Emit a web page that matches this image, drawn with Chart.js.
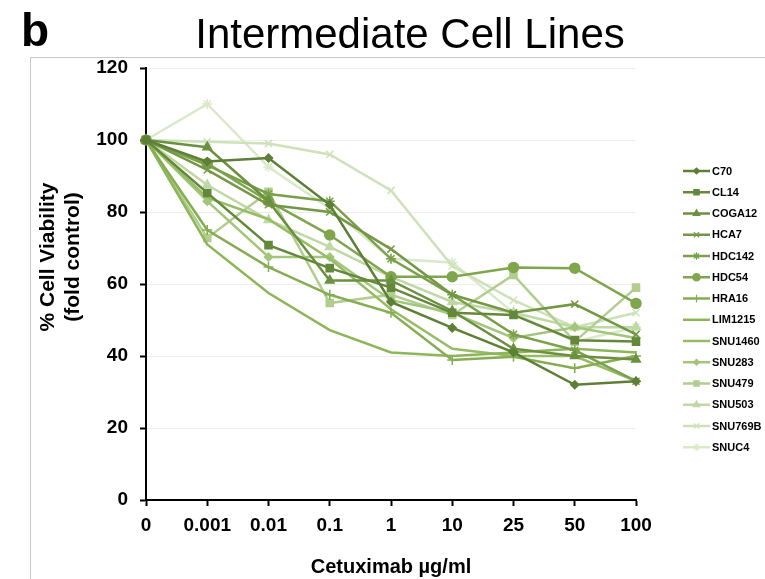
<!DOCTYPE html>
<html><head><meta charset="utf-8">
<script src="https://cdn.jsdelivr.net/npm/chart.js@4"></script>
<style>html,body{margin:0;padding:0;background:#fff;}#wrap{position:relative;width:765px;height:579px;}</style>
</head><body><div id="wrap"><canvas id="c" width="765" height="579"></canvas></div>
<script>
const categories = ["0","0.001","0.01","0.1","1","10","25","50","100"];
const seriesNames = ["C70","CL14","COGA12","HCA7","HDC142","HDC54","HRA16","LIM1215","SNU1460","SNU283","SNU479","SNU503","SNU769B","SNUC4"];
const C70     = [100, 94,   95,   82,   55,   47.8, 41,   32,   33];
const CL14    = [100, 85.3, 70.8, 64.4, 59,   52,   51.4, 44.4, 44];
const COGA12  = [100, 98,   83,   61,   61,   52.5, 42,   40,   39];
const HCA7    = [100, 91.7, 82,   80,   69.7, 57,   52,   54.4, 46];
const HDC142  = [100, 93,   85,   83,   67,   57,   46,   41.6, 33];
const HDC54   = [100, 93.5, 83,   73.6, 62,   62,   64.6, 64.4, 54.6];
const HRA16   = [100, 75,   64.7, 57,   52,   38.9, 39.8, 36.6, 40];
const LIM1215 = [100, 71,   57.5, 47.2, 41,   40,   41,   42,   41];
const SNU1460 = [100, 84,   78,   67,   53,   42,   40,   40,   33];
const SNU283  = [100, 83,   67.5, 67.5, 55.5, 52,   45,   48,   45];
const SNU479  = [100, 72.8, 85.6, 54.7, 57,   51.4, 62.5, 44,   59];
const SNU503  = [100, 87.5, 77.8, 70.3, 62,   55,   52,   48,   48];
const SNU769B = [100, 99.5, 99,   96,   86,   65,   55.5, 48,   52];
const SNUC4   = [100, 110,  92.5, 81,   67,   66,   52,   44,   48];
const yTicks = [0,20,40,60,80,100,120];
const yTitle = ['% Cell Viability','(fold control)'];
const xTitle = 'Cetuximab µg/ml';
const chartTitle = 'Intermediate Cell Lines';
const panelLetter = 'b';

const seriesValues = [C70,CL14,COGA12,HCA7,HDC142,HDC54,HRA16,LIM1215,SNU1460,SNU283,SNU479,SNU503,SNU769B,SNUC4];
const colors = ["#5d7f36","#64883a","#6b9140","#739845","#7aa04a","#7fa64c","#86ad52","#8cb659","#96bd65","#a2c67a","#b1ce8f","#bfd8a4","#cde2b8","#d9e9ca"];
const styles = ["rectRot","rect","triangle","crossRot","star","circle","cross",false,false,"rectRot","rect","triangle","crossRot","star"];
const radii  = [4,5,5,5,5,5,5,0,0,4,5,5,5,5];

const datasets = seriesNames.map((n,i)=>({
  label:n, data:seriesValues[i], borderColor:colors[i], backgroundColor:colors[i],
  borderWidth:2.5, pointStyle:styles[i]||'circle', pointRadius:radii[i], pointBorderWidth:1.5,
  pointHoverRadius:radii[i], tension:0, fill:false
}));

const FONT = "'Liberation Sans', Arial, sans-serif";

const deco = {
  id:'deco',
  beforeDraw(chart){
    const ctx = chart.ctx;
    ctx.save();
    ctx.fillStyle='#fff'; ctx.fillRect(0,0,chart.width,chart.height);
    ctx.strokeStyle='#c8c8c8'; ctx.lineWidth=1;
    ctx.beginPath(); ctx.moveTo(30.5,579); ctx.lineTo(30.5,57.5); ctx.lineTo(765,57.5); ctx.stroke();
    ctx.fillStyle='#000';
    ctx.font = "bold 46px "+FONT; ctx.textAlign='left'; ctx.textBaseline='alphabetic';
    ctx.fillText(panelLetter, 21, 46);
    ctx.font = "42px "+FONT; ctx.textAlign='center';
    ctx.fillText(chartTitle, 410, 48);
    // y axis title
    ctx.translate(61, 257);
    ctx.rotate(-Math.PI/2);
    ctx.font = "bold 21px "+FONT; ctx.textAlign='center'; ctx.textBaseline='middle';
    ctx.fillText(yTitle[0], 0, -12.5);
    ctx.fillText(yTitle[1], 0, 12.5);
    ctx.restore();
  },
  afterDraw(chart){
    const ctx = chart.ctx;
    ctx.save();
    const x0=683, x1=710, y0=171, dy=21.25;
    chart.data.datasets.forEach((ds,i)=>{
      const y = y0 + i*dy;
      ctx.strokeStyle = ds.borderColor; ctx.lineWidth = 2.5;
      ctx.beginPath(); ctx.moveTo(x0,y); ctx.lineTo(x1,y); ctx.stroke();
      if (ds.pointRadius>0){
        ctx.fillStyle = ds.backgroundColor; ctx.strokeStyle = ds.borderColor; ctx.lineWidth=1.2;
        Chart.helpers.drawPoint(ctx,{pointStyle:ds.pointStyle, radius:ds.pointRadius*0.75, borderWidth:1.2, rotation:0}, (x0+x1)/2, y);
      }
      ctx.fillStyle='#000'; ctx.font="bold 11px "+FONT; ctx.textAlign='left'; ctx.textBaseline='middle';
      ctx.fillText(ds.label, x1+2, y+0.5);
    });
    ctx.restore();
  }
};

new Chart(document.getElementById('c'), {
  type:'line',
  data:{labels:categories, datasets},
  plugins:[deco],
  options:{
    responsive:false, animation:false, devicePixelRatio:1,
    layout:{padding:{left:0, top:68, right:129, bottom:0}},
    plugins:{legend:{display:false}, title:{display:false}, tooltip:{enabled:false}},
    scales:{
      x:{
        type:'category', offset:false,
        grid:{drawOnChartArea:false, drawTicks:true, tickLength:6, tickColor:'#000', tickWidth:2},
        border:{color:'#000', width:2},
        ticks:{color:'#000', font:{family:FONT, size:19, weight:'bold'}, padding:8, maxRotation:0, autoSkip:false},
        title:{display:true, text:xTitle, color:'#000', font:{family:FONT, size:20, weight:'bold'}, padding:{top:13,bottom:0}},
        afterFit(s){ s.height = 79; }
      },
      y:{
        min:0, max:120,
        afterBuildTicks(s){ s.ticks = yTicks.map(v=>({value:v})); },
        grid:{color:'#eeeeee', lineWidth:1, drawTicks:true, tickLength:6, tickColor:'#000', tickWidth:2},
        border:{color:'#000', width:2},
        ticks:{color:'#000', font:{family:FONT, size:19, weight:'bold'}, padding:12},
        title:{display:false},
        afterFit(s){ s.width = 146; }
      }
    }
  }
});
</script></body></html>
